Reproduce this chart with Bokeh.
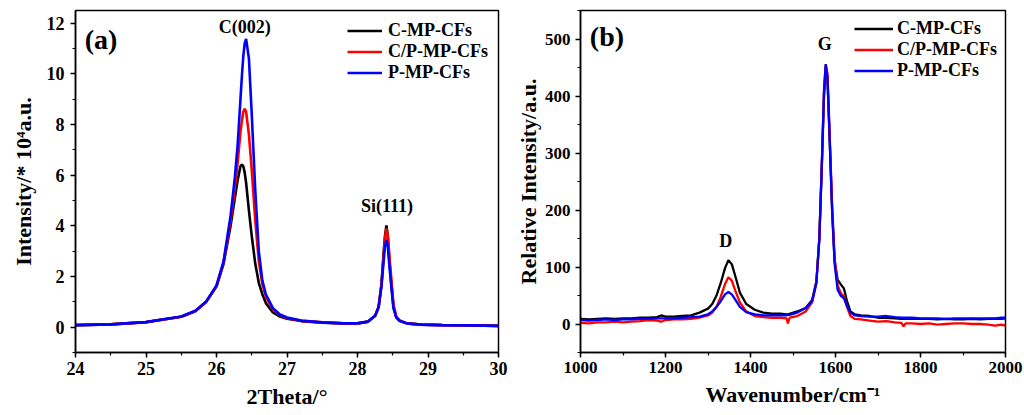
from bokeh.plotting import figure
from bokeh.layouts import row
from bokeh.models import (Range1d, SingleIntervalTicker, Legend, LegendItem, Label)
from bokeh.embed import file_html
from bokeh.resources import INLINE

# ---------------- (a) XRD data ----------------
xrd_theta = [24.0, 24.5, 25.0, 25.5, 25.7, 25.85, 26.0, 26.1, 26.2, 26.26, 26.3,
             26.34, 26.36, 26.38, 26.40, 26.42, 26.46, 26.5, 26.55, 26.6, 26.65,
             26.7, 26.8, 26.9, 27.0, 27.2, 27.5, 27.8,
             28.0, 28.15, 28.25, 28.3, 28.34, 28.37, 28.39, 28.41, 28.43, 28.45,
             28.48, 28.51, 28.55, 28.6, 28.7, 28.9, 29.2, 29.6, 30.0]
xrd_c = [0.08, 0.11, 0.2, 0.41, 0.63, 0.98, 1.6, 2.5, 4.0, 5.1, 5.8,
         6.35, 6.42, 6.35, 6.1, 5.7, 4.6, 3.6, 2.5, 1.75, 1.3,
         0.95, 0.58, 0.42, 0.33, 0.24, 0.18, 0.15,
         0.15, 0.22, 0.45, 0.8, 1.7, 2.9, 3.6, 4.02, 3.6, 2.7,
         1.7, 0.8, 0.4, 0.25, 0.15, 0.1, 0.08, 0.07, 0.05]
xrd_cp = [0.08, 0.11, 0.2, 0.41, 0.64, 0.99, 1.62, 2.55, 4.2, 5.5, 6.5,
          7.7, 8.15, 8.5, 8.62, 8.5, 7.6, 6.2, 4.2, 2.6, 1.7,
          1.2, 0.7, 0.48, 0.36, 0.25, 0.19, 0.15,
          0.15, 0.22, 0.45, 0.8, 1.7, 2.8, 3.5, 3.9, 3.6, 2.9,
          1.9, 0.9, 0.42, 0.26, 0.15, 0.1, 0.08, 0.07, 0.05]
xrd_p = [0.08, 0.11, 0.2, 0.42, 0.65, 1.0, 1.65, 2.6, 4.4, 5.9, 7.2,
         9.0, 9.9, 10.7, 11.2, 11.38, 10.6, 8.4, 5.4, 3.0, 1.85,
         1.3, 0.75, 0.5, 0.38, 0.26, 0.19, 0.15,
         0.15, 0.22, 0.45, 0.8, 1.6, 2.6, 3.2, 3.45, 3.2, 2.5,
         1.6, 0.75, 0.38, 0.24, 0.15, 0.1, 0.08, 0.07, 0.05]

# ---------------- (b) Raman data ----------------
raman_wn = [1000, 1020, 1040, 1060, 1080, 1100, 1120, 1140, 1160, 1180,
            1190, 1200, 1220, 1240, 1260, 1280, 1300, 1310, 1320, 1330,
            1340, 1348, 1356, 1365, 1375, 1390, 1410, 1430, 1450, 1470,
            1485, 1488, 1492, 1510, 1530, 1545, 1555, 1562, 1568, 1573,
            1577, 1581, 1586, 1592, 1598, 1605, 1612, 1620, 1627, 1635,
            1645, 1660, 1680, 1700, 1720, 1740, 1755, 1760, 1765, 1780,
            1800, 1820, 1840, 1860, 1880, 1900, 1920, 1940, 1960, 1975,
            1990, 2000]
raman_c = [9, 8, 9, 10, 9, 10, 10, 11, 11, 12,
           15, 13, 13, 14, 15, 20, 27, 35, 50, 72,
           98, 112, 105, 82, 55, 35, 25, 20, 18, 18,
           17, 17, 18, 22, 28, 42, 75, 150, 280, 400,
           450, 430, 330, 200, 110, 78, 70, 62, 40, 22,
           17, 15, 14, 11, 11, 10, 9, 9, 9, 9,
           9, 9, 8, 9, 8, 8, 9, 8, 9, 9,
           9, 10]
raman_cp = [2, 1, 3, 3, 4, 3, 4, 5, 7, 6,
            4, 7, 8, 8, 9, 11, 15, 20, 30, 48,
            70, 82, 76, 57, 38, 22, 14, 12, 11, 11,
            10, 1, 11, 14, 22, 38, 72, 150, 285, 410,
            455, 440, 340, 210, 115, 68, 55, 48, 30, 14,
            9, 8, 6, 4, 5, 3, 2, -4, 1, 1,
            0, 1, -1, 0, 1, 1, 0, 0, -1, -3,
            -1, -3]
raman_p = [7, 6, 7, 8, 7, 8, 8, 9, 9, 10,
           10, 10, 10, 11, 12, 13, 17, 22, 30, 40,
           52, 56, 52, 42, 30, 21, 17, 15, 15, 15,
           15, 16, 16, 20, 28, 40, 72, 150, 285, 410,
           456, 435, 330, 200, 105, 60, 50, 45, 32, 20,
           15, 14, 13, 13, 14, 12, 11, 11, 11, 11,
           10, 10, 10, 9, 10, 10, 10, 10, 10, 10,
           11, 11]

series_names = ["C-MP-CFs", "C/P-MP-CFs", "P-MP-CFs"]
colors = ["#000000", "#ff0000", "#0000ff"]

FONT = "Liberation Serif"


def style(p, tick_size):
    p.outline_line_color = "black"
    p.outline_line_width = 1.5
    p.xgrid.visible = False
    p.ygrid.visible = False
    for ax in (p.xaxis[0], p.yaxis[0]):
        ax.axis_line_width = 1.5
        ax.axis_line_color = "black"
        ax.major_tick_line_width = 1.5
        ax.minor_tick_line_width = 1.2
        ax.major_tick_in = 0
        ax.major_tick_out = 5
        ax.minor_tick_in = 0
        ax.minor_tick_out = 3
        ax.major_label_text_font = FONT
        ax.major_label_text_font_style = "bold"
        ax.major_label_text_font_size = tick_size
        ax.major_label_text_color = "black"
        ax.axis_label_text_font = FONT
        ax.axis_label_text_font_style = "bold"
        ax.axis_label_text_font_size = "22px"
        ax.axis_label_text_color = "black"
    p.xaxis[0].major_label_standoff = 4
    p.yaxis[0].major_label_standoff = 6
    p.xaxis[0].axis_label_standoff = 6


def make_legend(p, renderers, loc, glyph_w, standoff):
    items = [LegendItem(label=n, renderers=[r]) for n, r in zip(series_names, renderers)]
    leg = Legend(items=items, location=loc)
    leg.border_line_color = None
    leg.background_fill_alpha = 0
    leg.padding = 0
    leg.margin = 0
    leg.spacing = 0
    leg.glyph_width = glyph_w
    leg.glyph_height = 21
    leg.label_height = 21
    leg.label_standoff = standoff
    leg.label_text_font = FONT
    leg.label_text_font_style = "bold"
    leg.label_text_font_size = "18px"
    leg.label_text_color = "black"
    p.add_layout(leg)


# ---------------- figure (a) ----------------
pa = figure(width=512, height=415, output_backend="svg", toolbar_location=None,
            x_range=Range1d(24, 30), y_range=Range1d(-1, 12.5),
            min_border_left=75, min_border_right=14, min_border_top=10, min_border_bottom=63)
style(pa, "18px")
pa.yaxis[0].axis_label_standoff = 8
pa.xaxis[0].ticker = SingleIntervalTicker(interval=1, num_minor_ticks=2)
pa.yaxis[0].ticker = SingleIntervalTicker(interval=2, num_minor_ticks=2)
pa.xaxis[0].axis_label = "2Theta/°"
pa.yaxis[0].axis_label = "Intensity/* 10⁴a.u."
ra = []
for ys, c in zip([xrd_c, xrd_cp, xrd_p], colors):
    ra.append(pa.line(xrd_theta, ys, line_color=c, line_width=2.6))
make_legend(pa, ra, (272, 269), 35, 6)
pa.add_layout(Label(x=24.13, y=11.35, text="(a)", text_font=FONT, text_font_style="bold",
                    text_font_size="28px", text_color="black", text_baseline="middle"))
pa.add_layout(Label(x=26.4, y=11.85, text="C(002)", text_font=FONT, text_font_style="bold",
                    text_font_size="18px", text_color="black", text_align="center",
                    text_baseline="middle"))
pa.add_layout(Label(x=28.42, y=4.78, text="Si(111)", text_font=FONT, text_font_style="bold",
                    text_font_size="18px", text_color="black", text_align="center",
                    text_baseline="middle"))

# ---------------- figure (b) ----------------
pb = figure(width=512, height=415, output_backend="svg", toolbar_location=None,
            x_range=Range1d(1000, 2000), y_range=Range1d(-50, 550),
            min_border_left=67, min_border_right=19, min_border_top=10, min_border_bottom=63)
style(pb, "17px")
pb.yaxis[0].axis_label_standoff = 1
pb.yaxis[0].major_label_standoff = 5
pb.xaxis[0].ticker = SingleIntervalTicker(interval=200, num_minor_ticks=2)
pb.yaxis[0].ticker = SingleIntervalTicker(interval=100, num_minor_ticks=2)
pb.xaxis[0].axis_label = "Wavenumber/cm⁻¹"
pb.yaxis[0].axis_label = "Relative Intensity/a.u."
rb = []
for ys, c in zip([raman_c, raman_cp, raman_p], colors):
    rb.append(pb.line(raman_wn, ys, line_color=c, line_width=2.3))
make_legend(pb, rb, (274, 271), 39, 4)
pb.add_layout(Label(x=1022, y=505, text="(b)", text_font=FONT, text_font_style="bold",
                    text_font_size="28px", text_color="black", text_baseline="middle"))
pb.add_layout(Label(x=1575, y=492, text="G", text_font=FONT, text_font_style="bold",
                    text_font_size="18px", text_color="black", text_align="center",
                    text_baseline="middle"))
pb.add_layout(Label(x=1342, y=146, text="D", text_font=FONT, text_font_style="bold",
                    text_font_size="18px", text_color="black", text_align="center",
                    text_baseline="middle"))

layout = row(pa, pb)
open("out.html", "w").write(file_html(layout, INLINE))
